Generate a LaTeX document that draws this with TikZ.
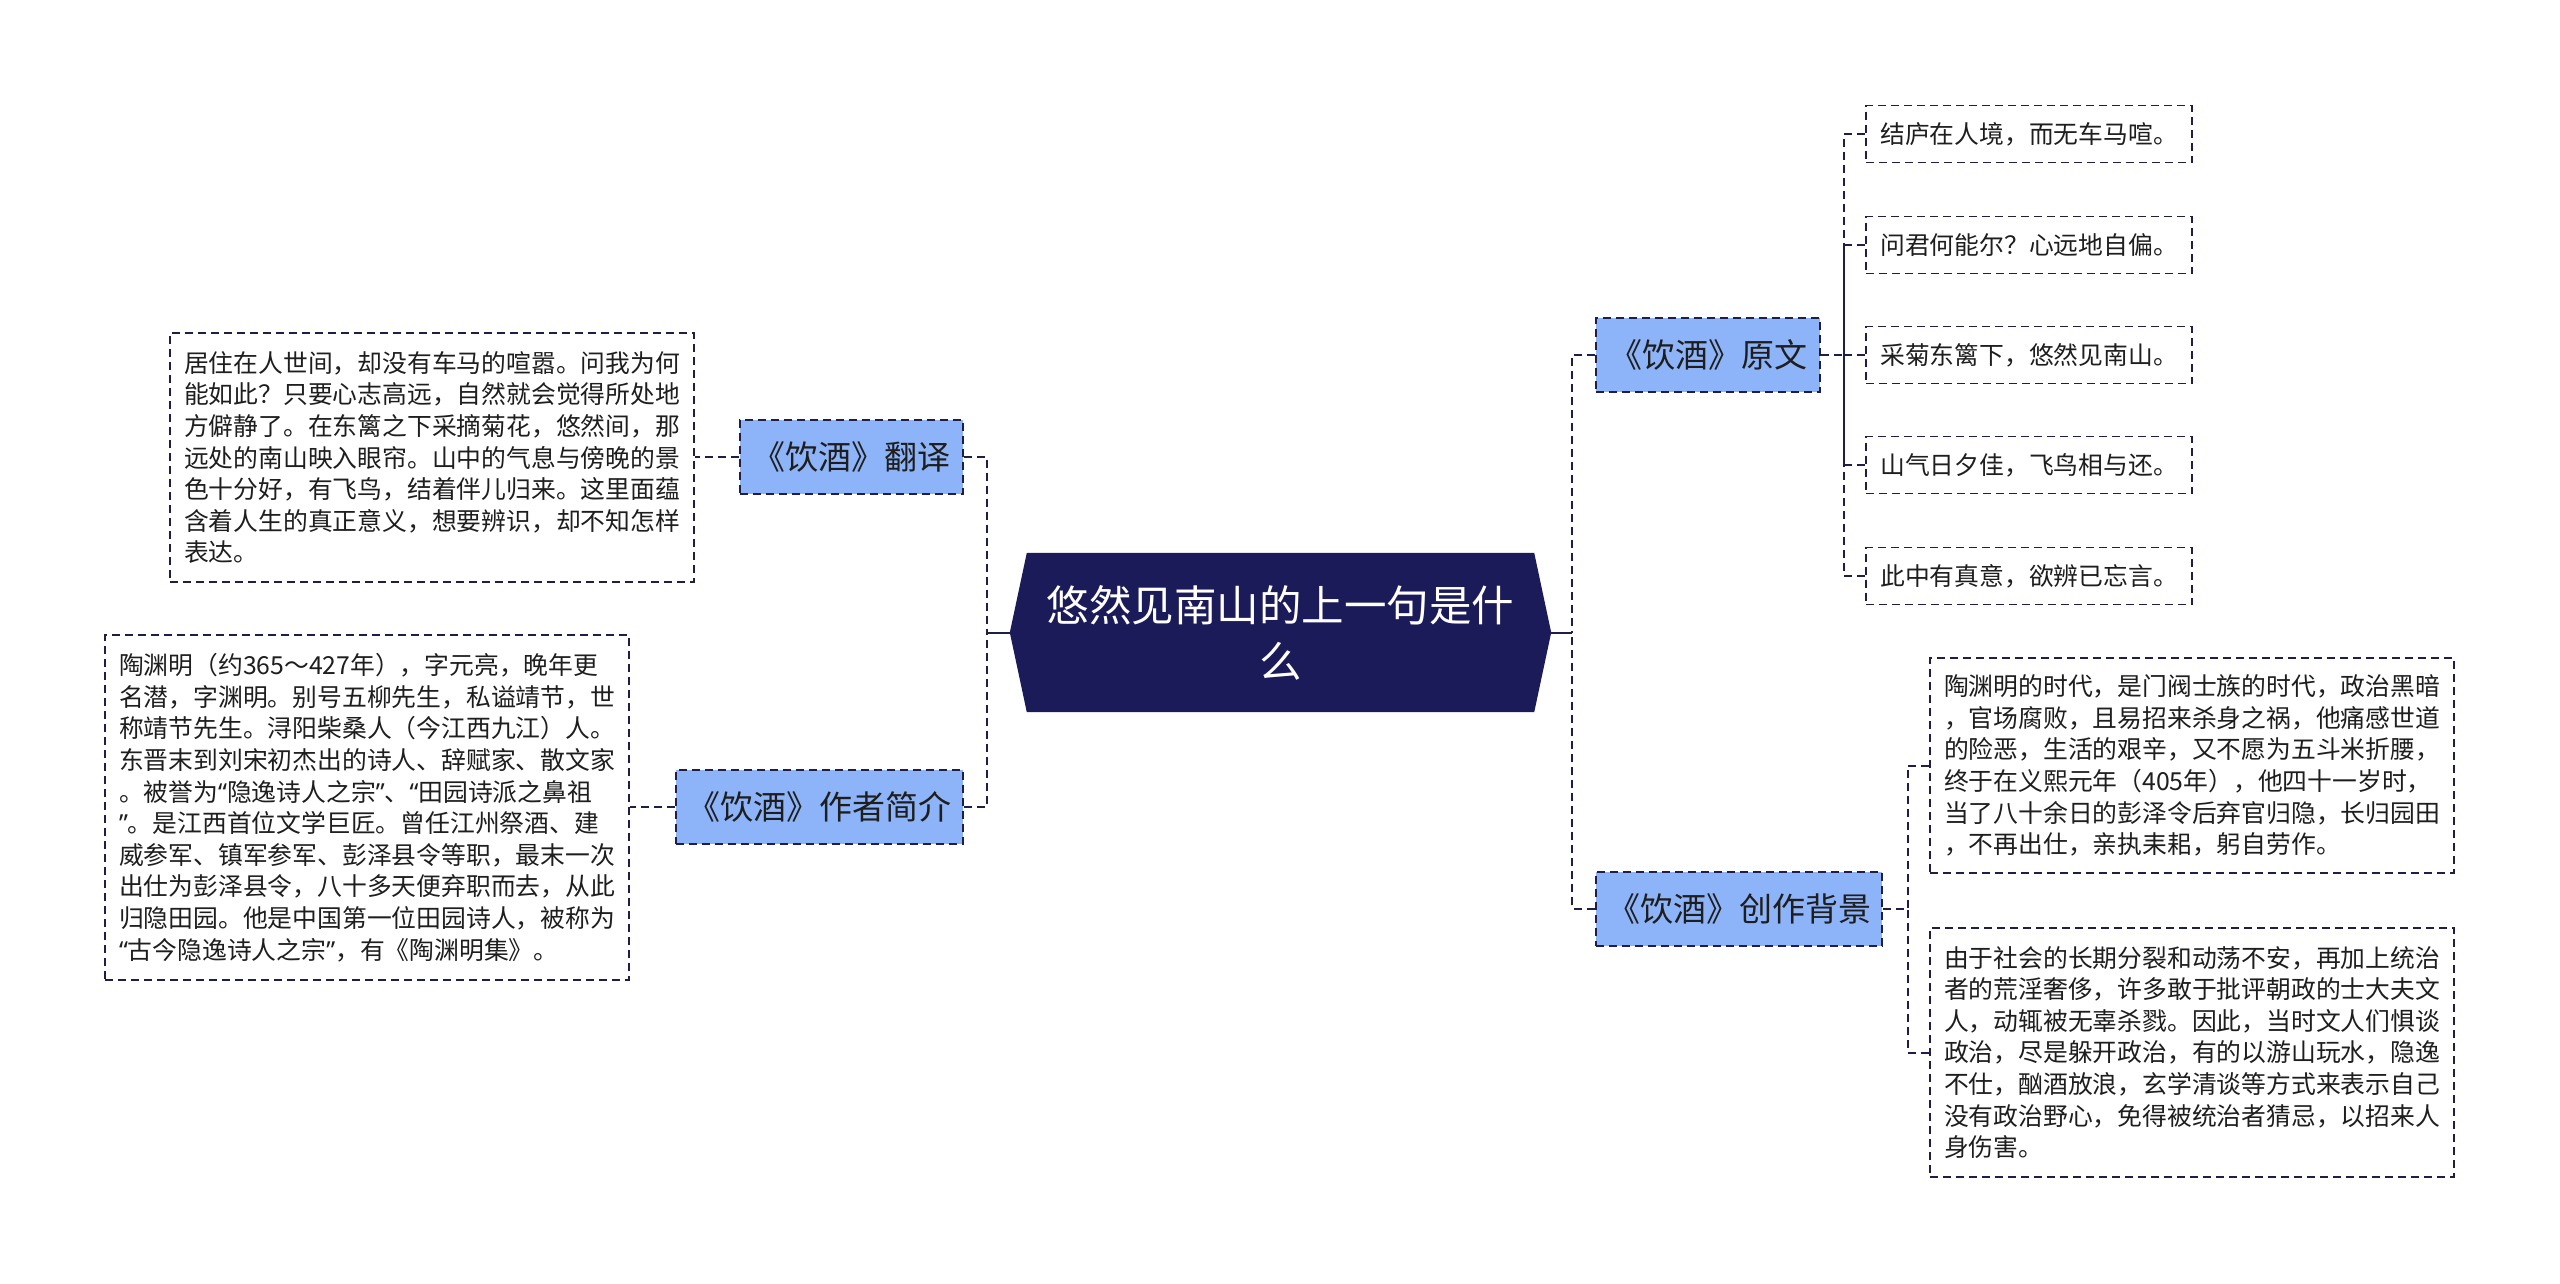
\documentclass[tikz,border=0pt]{standalone}
\usepackage{fontspec}
\setmainfont{Noto Sans CJK SC}
\newfontfamily\quotefont{Noto Sans}
\newcommand{\myqo}{{\quotefont “}}
\newcommand{\myqc}{{\quotefont ”}}
\usetikzlibrary{backgrounds}
\definecolor{navy}{RGB}{28,27,90}
\definecolor{bblue}{RGB}{141,180,248}
\definecolor{ink}{RGB}{30,30,30}
\definecolor{lineclr}{RGB}{30,30,70}
\tikzset{
  dsh/.style={dash pattern=on 8pt off 5pt},
  hub/.style={inner sep=0pt, minimum width=541pt, minimum height=159pt, text=white, align=center, font=\fontsize{42.5pt}{56pt}\selectfont},
  branch/.style={draw=lineclr, line width=2pt, dsh, fill=bblue, text=ink, inner sep=0pt, minimum height=74pt, font=\fontsize{33pt}{38pt}\selectfont},
  leaf/.style={draw=lineclr, line width=1.8pt, dsh, text=ink, inner sep=0pt, align=left, font=\fontsize{24.8pt}{31.6pt}\selectfont},
  conn/.style={draw=lineclr, line width=2pt},
  dconn/.style={conn, dsh},
}
\begin{document}
\begin{tikzpicture}[x=1pt,y=-1pt]
\useasboundingbox (0,0) rectangle (2560,1283);
% central node
\node[hub] (c) at (1280.5,632.5) {悠然见南山的上一句是什\\么};
\begin{scope}[on background layer]
\fill[white] (0,0) rectangle (2560,1283);
\fill[navy] (c.west) -- ([xshift=17pt]c.north west) -- ([xshift=-17pt]c.north east) -- (c.east) -- ([xshift=-17pt]c.south east) -- ([xshift=17pt]c.south west) -- cycle;
\end{scope}
% branch nodes
\node[branch, minimum width=223pt] (fy) at (851.5,456.5) {《饮酒》翻译};
\node[branch, minimum width=287pt] (zz) at (819.5,807) {《饮酒》作者简介};
\node[branch, minimum width=224pt] (yw) at (1708,355) {《饮酒》原文};
\node[branch, minimum width=286pt] (bj) at (1739,908.5) {《饮酒》创作背景};
% text boxes
\node[leaf, minimum width=524pt, minimum height=249pt] (fyt) at (432,457.5) {%
居住在人世间，却没有车马的喧嚣。问我为何\\%
能如此？只要心志高远，自然就会觉得所处地\\%
方僻静了。在东篱之下采摘菊花，悠然间，那\\%
远处的南山映入眼帘。山中的气息与傍晚的景\\%
色十分好，有飞鸟，结着伴儿归来。这里面蕴\\%
含着人生的真正意义，想要辨识，却不知怎样\\%
表达。};
\node[leaf, minimum width=524pt, minimum height=345pt] (zzt) at (367,807.5) {%
陶渊明（约365～427年），字元亮，晚年更\\%
名潜，字渊明。别号五柳先生，私谥靖节，世\\%
称靖节先生。浔阳柴桑人（今江西九江）人。\\%
东晋末到刘宋初杰出的诗人、辞赋家、散文家\\%
。被誉为\myqo 隐逸诗人之宗\myqc、\myqo 田园诗派之鼻祖\\%
\myqc。是江西首位文学巨匠。曾任江州祭酒、建\\%
威参军、镇军参军、彭泽县令等职，最末一次\\%
出仕为彭泽县令，八十多天便弃职而去，从此\\%
归隐田园。他是中国第一位田园诗人，被称为\\%
\myqo 古今隐逸诗人之宗\myqc，有《陶渊明集》。};
\node[leaf, minimum width=524pt, minimum height=215pt] (bj1) at (2192,765.5) {%
陶渊明的时代，是门阀士族的时代，政治黑暗\\%
，官场腐败，且易招来杀身之祸，他痛感世道\\%
的险恶，生活的艰辛，又不愿为五斗米折腰，\\%
终于在义熙元年（405年），他四十一岁时，\\%
当了八十余日的彭泽令后弃官归隐，长归园田\\%
，不再出仕，亲执耒耜，躬自劳作。};
\node[leaf, minimum width=524pt, minimum height=249pt] (bj2) at (2192,1052.5) {%
由于社会的长期分裂和动荡不安，再加上统治\\%
者的荒淫奢侈，许多敢于批评朝政的士大夫文\\%
人，动辄被无辜杀戮。因此，当时文人们惧谈\\%
政治，尽是躲开政治，有的以游山玩水，隐逸\\%
不仕，酗酒放浪，玄学清谈等方式来表示自己\\%
没有政治野心，免得被统治者猜忌，以招来人\\%
身伤害。};
% leaves of 原文
\node[leaf, minimum width=326pt, minimum height=57pt] (l1) at (2029,134) {结庐在人境，而无车马喧。};
\node[leaf, minimum width=326pt, minimum height=57pt] (l2) at (2029,245) {问君何能尔？心远地自偏。};
\node[leaf, minimum width=326pt, minimum height=57pt] (l3) at (2029,355) {采菊东篱下，悠然见南山。};
\node[leaf, minimum width=326pt, minimum height=57pt] (l4) at (2029,465) {山气日夕佳，飞鸟相与还。};
\node[leaf, minimum width=326pt, minimum height=57pt] (l5) at (2029,576) {此中有真意，欲辨已忘言。};
% connectors left
\draw[conn] (c.west) -- ++(-23,0) coordinate (ls);
\draw[dconn] (fy.east) -| (ls);
\draw[dconn] (zz.east) -| (ls);
\draw[dconn] (fy.west) -- (fy.west -| fyt.east);
\draw[dconn] (zz.west) -- (zz.west -| zzt.east);
% connectors right
\draw[conn] (c.east) -- ++(21,0) coordinate (rs);
\draw[dconn] (yw.west) -| (rs);
\draw[dconn] (bj.west) -| (rs);
\draw[dconn] (yw.east) -- ++(23,0) coordinate (ys);
\foreach \n in {l1,l2,l3,l4,l5} \draw[dconn] (\n.west) -| (ys);
\draw[dconn] (bj.east) -- ++(25,0) coordinate (bs);
\draw[dconn] (bj1.west) -| (bs);
\draw[dconn] (bj2.west) -| (bs);
\end{tikzpicture}
\end{document}
